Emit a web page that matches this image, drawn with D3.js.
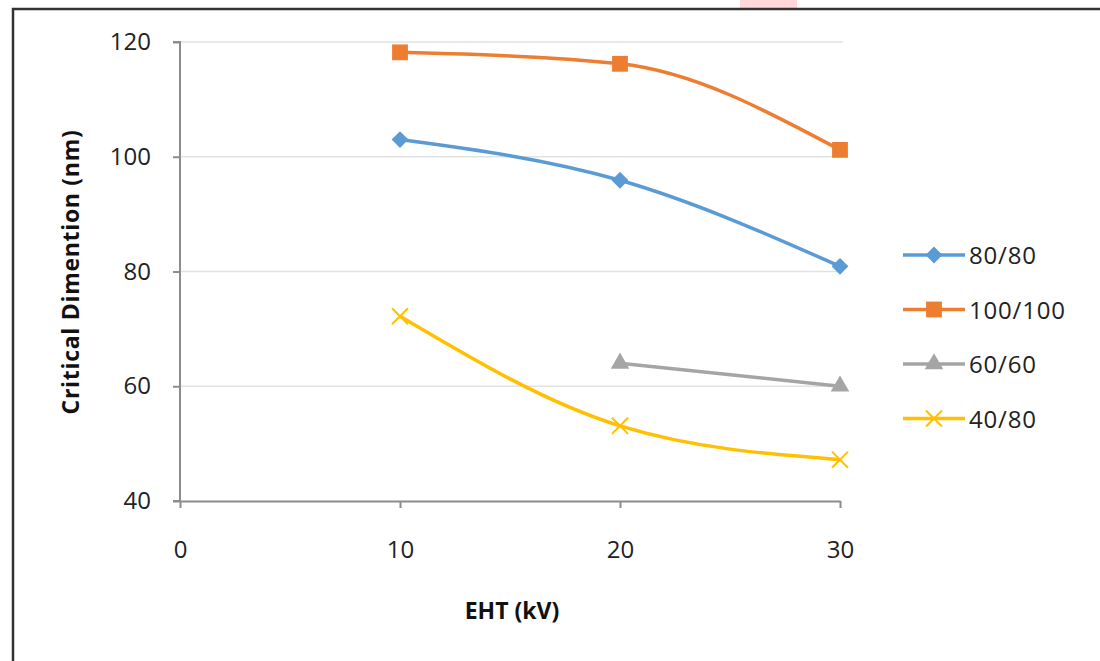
<!DOCTYPE html>
<html><head><meta charset="utf-8">
<script src="https://cdn.jsdelivr.net/npm/d3@7"></script>
<style>html,body{margin:0;padding:0;background:#fff;} svg{display:block;}</style>
</head><body>
<svg id="c" width="1100" height="661"></svg>
<script>
const xValues = [10, 20, 30];
const seriesNames = ["80/80", "100/100", "60/60", "40/80"];
const s8080 = [103, 95.9, 80.9];
const s100100 = [118.2, 116.2, 101.2];
const s6060 = [null, 64, 60];
const s4080 = [72.2, 53.1, 47.2];
const xTicks = [0, 10, 20, 30];
const yTicks = [40, 60, 80, 100, 120];
const colors = ["#5B9BD5", "#ED7D31", "#A5A5A5", "#FFC000"];
const markers = ["diamond", "square", "triangle", "x"];
const smooth = [true, true, false, true];
const allSeries = [s8080, s100100, s6060, s4080];

const svg = d3.select("#c");
const font = "'Open Sans', sans-serif";
// frame
svg.append("rect").attr("x", 740).attr("y", 0).attr("width", 57).attr("height", 8).attr("fill", "#ffd9d9");
svg.append("path").attr("d", "M13,661 V9 H1100").attr("fill", "none").attr("stroke", "#333").attr("stroke-width", 2.5);

const x = d3.scaleLinear().domain([0, 30]).range([180, 840]);
const y = d3.scaleLinear().domain([40, 120]).range([501, 42]);

// gridlines
svg.append("g").selectAll("line").data(yTicks.slice(1)).join("line")
  .attr("x1", 180).attr("x2", 843).attr("y1", d => y(d)).attr("y2", d => y(d))
  .attr("stroke", "#e2e2e2").attr("stroke-width", 1.5);

const yAxis = svg.append("g").attr("transform", "translate(180,0)")
  .call(d3.axisLeft(y).tickValues(yTicks).tickSize(7).tickPadding(22).tickFormat(d3.format("d")));
const xAxis = svg.append("g").attr("transform", "translate(0,501)")
  .call(d3.axisBottom(x).tickValues(xTicks).tickSize(7).tickPadding(33).tickFormat(d3.format("d")).tickSizeOuter(0));
[yAxis, xAxis].forEach(a => {
  a.select(".domain").attr("stroke", "#8c8c8c").attr("stroke-width", 2);
  a.selectAll(".tick line").attr("stroke", "#8c8c8c").attr("stroke-width", 2);
  a.selectAll("text").attr("font-family", font).attr("font-size", 24).attr("fill", "#222");
});
yAxis.select(".domain").attr("d", "M-7,42H0V501H-7");

// titles
svg.append("text").attr("x", 512).attr("y", 619).attr("text-anchor", "middle")
  .attr("font-family", font).attr("font-weight", "bold").attr("font-size", 23).attr("fill", "#111").text("EHT (kV)");
svg.append("text").attr("transform", "translate(79,272) rotate(-90)").attr("text-anchor", "middle")
  .attr("font-family", font).attr("font-weight", "bold").attr("font-size", 23).attr("letter-spacing", 0.7).attr("fill", "#111").text("Critical Dimention (nm)");

function markerPath(type) {
  if (type === "diamond") return d3.symbol(d3.symbolDiamond2, 180)();
  if (type === "square") return d3.symbol(d3.symbolSquare, 250)();
  if (type === "triangle") return d3.symbol(d3.symbolTriangle, 150)();
  return d3.symbol(d3.symbolTimes, 170)();
}
function drawMarker(g, type, color, cx, cy) {
  const p = g.append("path").attr("d", markerPath(type)).attr("transform", `translate(${cx},${cy})`);
  if (type === "x") p.attr("fill", "none").attr("stroke", color).attr("stroke-width", 2);
  else p.attr("fill", color);
}

allSeries.forEach((vals, i) => {
  const pts = xValues.map((xv, j) => [xv, vals[j]]).filter(p => p[1] !== null);
  const line = d3.line().x(d => x(d[0])).y(d => y(d[1]))
    .curve(smooth[i] ? d3.curveMonotoneX : d3.curveLinear);
  const g = svg.append("g");
  g.append("path").attr("d", line(pts)).attr("fill", "none").attr("stroke", colors[i]).attr("stroke-width", 3.5);
  pts.forEach(p => drawMarker(g, markers[i], colors[i], x(p[0]), y(p[1])));
});

// legend
const leg = svg.append("g");
seriesNames.forEach((n, i) => {
  const ly = 255 + i * 54.5;
  const g = leg.append("g");
  g.append("line").attr("x1", 903).attr("x2", 965).attr("y1", ly).attr("y2", ly).attr("stroke", colors[i]).attr("stroke-width", 3.5);
  drawMarker(g, markers[i], colors[i], 934, ly);
  g.append("text").attr("x", 969).attr("y", ly + 9).attr("font-family", font).attr("font-size", 24).attr("letter-spacing", 0.8).attr("fill", "#222").text(n);
});
</script>
</body></html>
